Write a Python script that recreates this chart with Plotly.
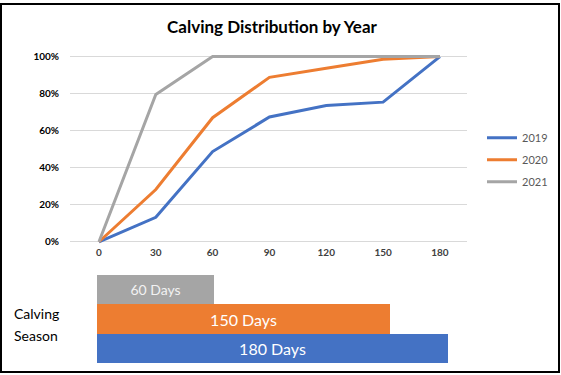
import plotly.graph_objects as go

W, H = 561, 375

days = [0, 30, 60, 90, 120, 150, 180]
years = ["2019", "2020", "2021"]
y2019 = [0, 0.132, 0.487, 0.674, 0.736, 0.754, 1.0]
y2020 = [0, 0.282, 0.670, 0.888, 0.937, 0.986, 1.0]
y2021 = [0, 0.795, 1.0, 1.0, 1.0, 1.0, 1.0]
line_colors = ["#4472C4", "#ED7D31", "#A5A5A5"]

season_labels = ["60 Days", "150 Days", "180 Days"]
season_days = [60, 150, 180]
season_colors = ["#A5A5A5", "#ED7D31", "#4472C4"]

y_ticks = [0, 0.2, 0.4, 0.6, 0.8, 1.0]

FONT = "Lato"

def px_x(p):
    return p / W

def px_y(p):
    return (H - p) / H

fig = go.Figure()

for i, (name, vals) in enumerate(zip(years, [y2019, y2020, y2021])):
    fig.add_trace(go.Scatter(
        x=days, y=vals, mode="lines", name=name,
        line=dict(color=line_colors[i], width=3),
        legendgroup=name, xaxis="x", yaxis="y",
    ))

fig.add_trace(go.Bar(
    y=season_labels, x=season_days, orientation="h",
    marker=dict(color=season_colors, line=dict(width=0)),
    text=season_labels, textposition="inside", insidetextanchor="middle",
    textfont=dict(family=FONT, size=[14, 16, 16], color=["#F2F2F2", "#FFFFFF", "#FFFFFF"]),
    showlegend=False, xaxis="x2", yaxis="y2", hoverinfo="skip",
))

fig.update_layout(
    width=W, height=H,
    margin=dict(l=0, r=0, t=0, b=0),
    paper_bgcolor="white", plot_bgcolor="white",
    font=dict(family=FONT),
    showlegend=True,
    title=dict(
        text="<b>Calving Distribution by Year</b>",
        x=px_x(272), y=px_y(24), xanchor="center", yanchor="middle",
        xref="paper", yref="paper",
        font=dict(family=FONT, size=17, color="#000000"),
    ),
    xaxis=dict(
        domain=[px_x(70), px_x(467)],
        range=[-15.3, 194.3],
        tickvals=days, ticktext=[str(d) for d in days],
        showgrid=False, zeroline=False, showline=False,
        tickfont=dict(family=FONT, size=10, color="#404040", weight="bold"),
        anchor="y", fixedrange=True,
    ),
    yaxis=dict(
        domain=[px_y(245.75), px_y(50.55)],
        range=[-0.02, 1.02],
        tickvals=y_ticks, tickformat=".0%",
        showgrid=True, gridcolor="#D9D9D9", gridwidth=1,
        zeroline=False, showline=False,
        tickfont=dict(family=FONT, size=10, color="#000000", weight="bold"),
        ticklabelstandoff=10,
        anchor="x", fixedrange=True,
    ),
    xaxis2=dict(
        domain=[px_x(97), px_x(467)],
        range=[0, (467 - 97) / ((448.3 - 97) / 180)],
        visible=False, anchor="y2", fixedrange=True,
    ),
    yaxis2=dict(
        domain=[px_y(365), px_y(275.7)],
        autorange="reversed",
        visible=False, anchor="x2", fixedrange=True,
    ),
    bargap=0,
    legend=dict(
        x=px_x(482), y=px_y(122), xanchor="left", yanchor="top",
        xref="paper", yref="paper",
        font=dict(family=FONT, size=11, color="#595959"),
        tracegroupgap=3, bgcolor="rgba(0,0,0,0)",
    ),
    annotations=[
        dict(text="Calving", x=px_x(12), y=px_y(315), xref="paper", yref="paper",
             xanchor="left", yanchor="middle", showarrow=False,
             font=dict(family=FONT, size=14, color="#000000")),
        dict(text="Season", x=px_x(12), y=px_y(337), xref="paper", yref="paper",
             xanchor="left", yanchor="middle", showarrow=False,
             font=dict(family=FONT, size=14, color="#000000")),
    ],
    shapes=[
        dict(type="rect", xref="paper", yref="paper",
             x0=px_x(1), x1=px_x(559), y0=px_y(374), y1=px_y(1),
             line=dict(color="#000000", width=2), fillcolor="rgba(0,0,0,0)"),
    ],
)

fig.write_html(
    "out.html",
    config={"displayModeBar": False},
    post_script="document.body.style.margin='0';document.body.style.overflow='hidden';",
)
